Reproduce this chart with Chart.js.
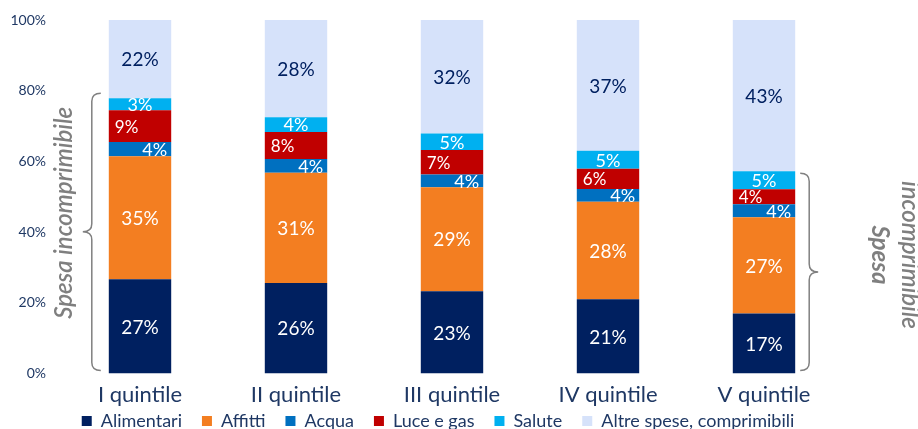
<!DOCTYPE html>
<html><head><meta charset="utf-8">
<script src="https://cdn.jsdelivr.net/npm/chart.js@4/dist/chart.umd.min.js"></script>
<style>html,body{margin:0;padding:0;background:#fff}#wrap{width:918px;height:429px;position:relative}</style>
</head><body><div id="wrap"><canvas id="c"></canvas></div>
<script>
const categories = ['I quintile','II quintile','III quintile','IV quintile','V quintile'];
const seriesNames = ['Alimentari','Affitti','Acqua','Luce e gas','Salute','Altre spese, comprimibili'];
const alimentari = [26.7,25.6,23.3,21.0,17.0];
const affitti    = [34.8,31.2,29.4,27.6,27.2];
const acqua      = [4.0,3.9,3.6,3.6,3.7];
const luceGas    = [9.0,7.6,6.9,5.7,4.2];
const salute     = [3.4,4.2,4.7,5.1,5.1];
const altre      = [22.1,27.5,32.1,37.0,42.8];
const yTickValues = [0,20,40,60,80,100];
const braceLeftText = 'Spesa incomprimibile';
const braceRightText = ['Spesa','incomprimibile'];

const NAVY = '#1F3864';
const FONT = 'Lato, "Open Sans", sans-serif';
const colors = ['#002060','#F37E21','#0070C0','#C00000','#00B0F0','#D6E2FA'];
const labelColors = ['#fff','#fff','#fff','#fff','#fff','#002060'];
const labelAligns = ['center','center','right','left','center','center'];
const labelSizes = [19,19,18,17,18,19];
const values = [alimentari,affitti,acqua,luceGas,salute,altre];

const datasets = values.map((d,i)=>({
  label: seriesNames[i], data: d, backgroundColor: colors[i],
  borderWidth: 0, categoryPercentage: 1, barPercentage: 0.4,
  labelColor: labelColors[i], labelAlign: labelAligns[i], labelSize: labelSizes[i]
}));

const segLabels = {
  id:'segLabels',
  afterDatasetsDraw(chart){
    const ctx = chart.ctx;
    chart.data.datasets.forEach((ds,i)=>{
      const meta = chart.getDatasetMeta(i);
      meta.data.forEach((bar,j)=>{
        const txt = Math.round(ds.data[j])+'%';
        const cy = (bar.y + bar.base)/2;
        const left = bar.x - bar.width/2, right = bar.x + bar.width/2;
        ctx.save();
        ctx.fillStyle = ds.labelColor;
        ctx.font = ds.labelSize+'px '+FONT;
        ctx.textBaseline = 'middle';
        let x = bar.x; ctx.textAlign = 'center';
        if (ds.labelAlign==='left'){ ctx.textAlign='left'; x = left+6; }
        else if (ds.labelAlign==='right'){ ctx.textAlign='right'; x = right-4; }
        ctx.fillText(txt, x, cy+1);
        ctx.restore();
      });
    });
  }
};

function brace(ctx, xEnd, xSpine, xTip, yTop, yBot){
  const yMid = (yTop+yBot)/2;
  const r = 8;
  ctx.beginPath();
  ctx.moveTo(xEnd, yTop);
  ctx.quadraticCurveTo(xSpine, yTop, xSpine, yTop+r);
  ctx.lineTo(xSpine, yMid-r);
  ctx.quadraticCurveTo(xSpine, yMid, xTip, yMid);
  ctx.quadraticCurveTo(xSpine, yMid, xSpine, yMid+r);
  ctx.lineTo(xSpine, yBot-r);
  ctx.quadraticCurveTo(xSpine, yBot, xEnd, yBot);
  ctx.stroke();
}

const braces = {
  id:'braces',
  afterDraw(chart){
    const ctx = chart.ctx, y = chart.scales.y;
    const incomp = (j)=> [alimentari,affitti,acqua,luceGas,salute].reduce((s,a)=>s+a[j],0);
    const m0 = chart.getDatasetMeta(0);
    const b0 = m0.data[0], b4 = m0.data[4];
    ctx.save();
    ctx.strokeStyle = '#808080'; ctx.lineWidth = 1.5; ctx.fillStyle = '#7F7F7F';
    const l = b0.x - b0.width/2;
    const lt = y.getPixelForValue(incomp(0)) - 5, lb = y.getPixelForValue(0) - 3;
    brace(ctx, l-8, l-17, l-26, lt, lb);
    ctx.save();
    ctx.translate(l-45, (lt+lb)/2 - 19);
    ctx.rotate(-Math.PI/2);
    ctx.font = 'italic 600 24px '+FONT;
    ctx.textAlign='center'; ctx.textBaseline='middle';
    ctx.fillText(braceLeftText, 0, 0);
    ctx.restore();
    const r = b4.x + b4.width/2;
    const rt = y.getPixelForValue(incomp(4)) + 2, rb = y.getPixelForValue(0) - 3;
    brace(ctx, r+5, r+14, r+23, rt, rb);
    ctx.save();
    ctx.translate(r+100, (rt+rb)/2 - 17);
    ctx.rotate(Math.PI/2);
    ctx.textAlign='center'; ctx.textBaseline='middle';
    ctx.font = 'italic bold 24px '+FONT;
    ctx.fillText(braceRightText[0], 0, 15);
    ctx.font = 'italic 600 24px '+FONT;
    ctx.fillText(braceRightText[1], 0, -15);
    ctx.restore();
    ctx.restore();
  }
};

const legendShift = {
  id:'legendShift',
  afterLayout(chart){
    const lg = chart.legend;
    if (lg){ lg.top -= 24; lg.bottom -= 24; lg.left += 12; lg.right += 12; }
  }
};

new Chart(document.getElementById('c'), {
  type:'bar',
  data:{ labels: categories, datasets },
  options:{
    responsive:true, maintainAspectRatio:false, animation:false,
    layout:{ padding:{ left:10, right:76, top:20, bottom:-35 } },
    plugins:{
      tooltip:{enabled:false},
      legend:{ position:'bottom', labels:{ color:NAVY, font:{family:FONT,size:18}, boxWidth:10, boxHeight:10, padding:20 } }
    },
    scales:{
      x:{ stacked:true, grid:{display:false, drawTicks:false}, border:{display:false},
          ticks:{ color:NAVY, font:{family:FONT,size:22}, padding:8, maxRotation:0 } },
      y:{ stacked:true, min:0, max:100, grid:{display:false, drawTicks:false}, border:{display:false},
          afterFit(s){ s.width = 52; s.paddingTop = 0; },
          afterBuildTicks(s){ s.ticks = yTickValues.map(v=>({value:v})); },
          ticks:{ color:NAVY, font:{family:FONT,size:14, lineHeight:1}, padding:16, callback:v=>v+'%' } }
    }
  },
  plugins:[segLabels, braces, legendShift]
});
</script></body></html>
